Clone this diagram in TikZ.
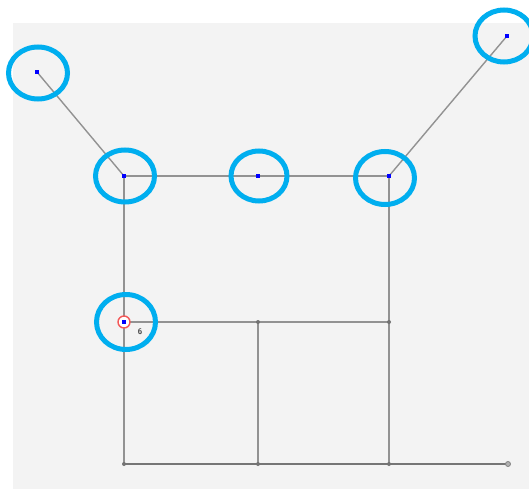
\documentclass[tikz,border=0pt]{standalone}
\usepackage{tikz}
\definecolor{bgpanel}{HTML}{F3F3F3}
\definecolor{edgegray}{HTML}{929292}
\definecolor{ringcyan}{HTML}{00AEEF}
\definecolor{ptblue}{HTML}{0000FF}
\definecolor{ptred}{HTML}{F03030}
\tikzset{
  x=1pt, y=-1pt,
  edge/.style={draw=edgegray, line width=1.4pt},
  freept/.style={rectangle, fill=ptblue, inner sep=0pt, minimum size=4pt},
  fixpt/.style={circle, fill=black!55, inner sep=0pt, minimum size=4pt},
  ring/.style={draw=ringcyan, line width=5pt, ellipse, inner sep=0pt},
}
\usetikzlibrary{shapes.geometric}
\begin{document}
\begin{tikzpicture}
\useasboundingbox (0,0) rectangle (529,489);
\fill[white] (0,0) rectangle (529,489);
\fill[bgpanel] (13,23) rectangle (529,489);

% points
\coordinate (p1) at (37,72);
\coordinate (a) at (124,176);
\coordinate (b) at (258,176);
\coordinate (c) at (389,176);
\coordinate (p2) at (507,36);
\coordinate (d) at (124,322);
\coordinate (e) at (258,322);
\coordinate (f) at (389,322);
\coordinate (g) at (124,464);
\coordinate (h) at (258,464);
\coordinate (i) at (389,464);
\coordinate (j) at (508,464);

% members
\draw[edge] (p1) -- (a);
\draw[edge] (a) -- (b);
\draw[edge] (b) -- (c);
\draw[edge] (c) -- (p2);
\draw[edge] (a) -- (d);
\draw[edge] (d) -- (g);
\draw[edge] (d) -- (e);
\draw[edge] (e) -- (f);
\draw[edge] (e) -- (h);
\draw[edge] (c) -- (f);
\draw[edge] (f) -- (i);
\draw[edge, draw=edgegray!80!black] (g) -- (h);
\draw[edge, draw=edgegray!80!black] (h) -- (i);
\draw[edge, draw=edgegray!80!black] (i) -- (j);

% fixed joints
\foreach \n in {e,f,g,h,i} \node[fixpt] (\n pt) at (\n) {};
\node[circle, draw=black!50, fill=black!30, line width=0.8pt, inner sep=0pt, minimum size=5pt] (jpt) at (j) {};

% free joints
\node[circle, draw=ptred!80, fill=white, line width=1.4pt, inner sep=0pt, minimum size=12pt] (dsel) at (d) {};
\foreach \n in {p1,a,b,c,p2,d} \node[freept] (\n pt) at (\n) {};
\node[font=\sffamily\bfseries\fontsize{8}{8}\selectfont, text=black!75, inner sep=0pt] (dlabel) at (140,332) {6};

% highlight rings
\node[ring, minimum width=59pt, minimum height=52pt] (r1) at (38,73) {};
\node[ring, minimum width=59pt, minimum height=52pt] (r2) at (125,176) {};
\node[ring, minimum width=56pt, minimum height=50pt] (r3) at (259,176) {};
\node[ring, minimum width=59pt, minimum height=53pt] (r4) at (385,178) {};
\node[ring, minimum width=58pt, minimum height=52pt] (r5) at (504,36) {};
\node[ring, minimum width=59pt, minimum height=55pt] (r6) at (126,322) {};
\end{tikzpicture}
\end{document}
